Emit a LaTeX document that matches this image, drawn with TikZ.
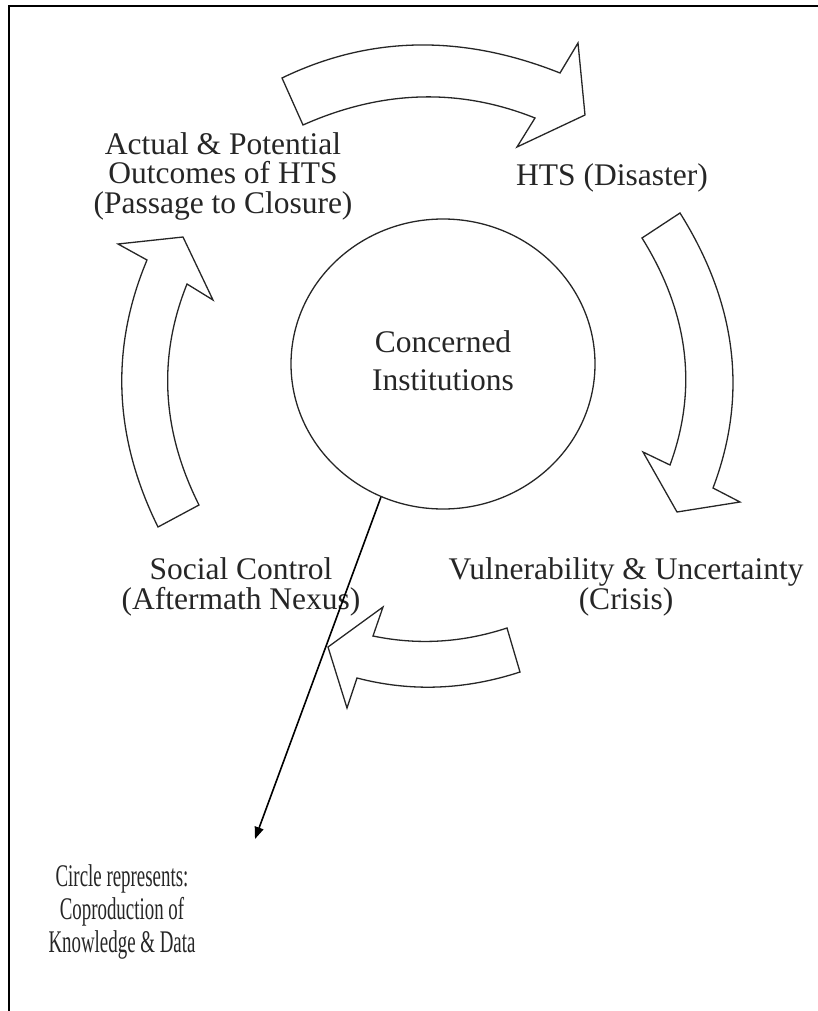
\documentclass[tikz,border=0pt]{standalone}
\usepackage{fontspec}
\setmainfont{Liberation Serif}
\usepackage{graphicx}
\usetikzlibrary{shapes.geometric,arrows.meta}
\begin{document}
\begin{tikzpicture}[x=1pt,y=-1pt,
  blockarrow/.style={draw=black!85, line width=1.3pt, fill=white, line join=miter},
  lbl/.style={align=center, font=\fontsize{31.5}{29.5}\selectfont, inner sep=0pt, text=black!85},
  ]
\useasboundingbox (0,0) rectangle (818,1011);
\draw[line width=2.6pt] (9,1011) -- (9,6) -- (818,6);

% block arrows
\draw[blockarrow] (282,78) .. controls (369.3,35.7) and (462,34) .. (560,73) -- (578,43) -- (585,115) -- (517,147) -- (535,118) .. controls (459,87.7) and (381.7,90) .. (303,125) -- cycle;
\draw[blockarrow] (680,213) .. controls (737,304) and (748,395.7) .. (713,488) -- (740,502) -- (677,512) -- (643,452) -- (670,465) .. controls (698,388.7) and (688.7,313) .. (642,238) -- cycle;
\draw[blockarrow] (507,628) .. controls (462.3,642.7) and (417.7,645.3) .. (373,636) -- (383,607) -- (328,647) -- (347,708) -- (357,678) .. controls (410.7,692) and (465,690) .. (520,672) -- cycle;
\draw[blockarrow] (158,527) .. controls (113.7,437.3) and (110,348.3) .. (147,260) -- (118,244) -- (183,237) -- (213,300) -- (187,284) .. controls (157.7,357) and (161.7,430.7) .. (199,505) -- cycle;

% circle
\node[draw=black!85, line width=1.3pt, ellipse, minimum width=304pt, minimum height=290pt, inner sep=0pt,
      font=\fontsize{31.5}{38}\selectfont, align=center, text=black!85] (c) at (443,364)
      {\raisebox{5pt}{\begin{tabular}{@{}c@{}}Concerned\\Institutions\end{tabular}}};

% labels
\node[lbl] (ap) at (223,176) {Actual \& Potential\\Outcomes of HTS\\(Passage to Closure)};
\node[lbl] (hts) at (612,178) {HTS (Disaster)};
\node[lbl] (vu) at (626,587) {Vulnerability \& Uncertainty\\(Crisis)};
\node[lbl] (sc) at (241,587) {Social Control\\(Aftermath Nexus)};
\node[lbl, font=\fontsize{31.5}{33}\selectfont] (cr) at (122,913)
  {\scalebox{0.6}[1]{\begin{tabular}{@{}c@{}}Circle represents:\\Coproduction of\\Knowledge \& Data\end{tabular}}};

% connector
\coordinate (tip) at (255,839);
\draw[line width=1.6pt, -{Triangle[length=12pt,width=9pt]}] (c.245) -- (tip);
\end{tikzpicture}
\end{document}
